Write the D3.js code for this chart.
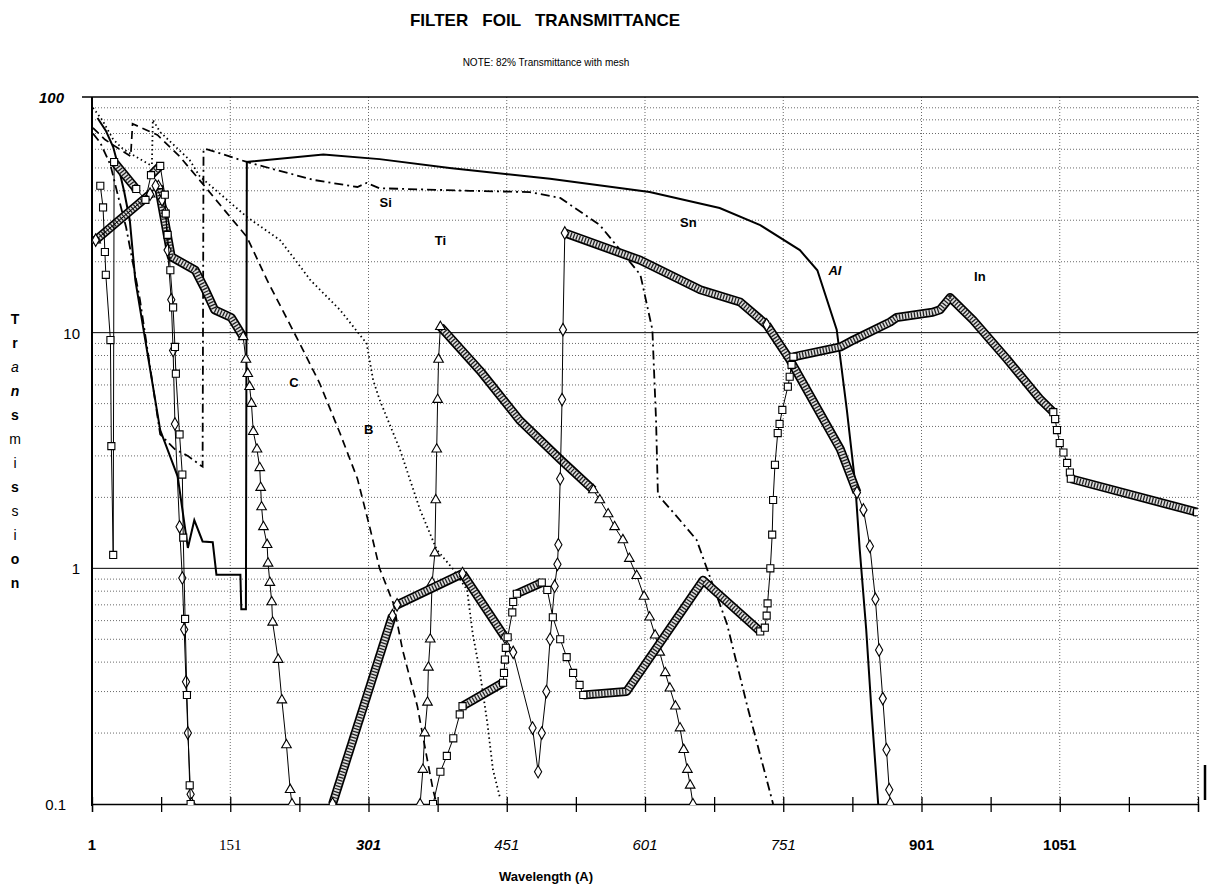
<!DOCTYPE html>
<html>
<head>
<meta charset="utf-8">
<script src="https://cdn.jsdelivr.net/npm/d3@7"></script>
<style>
  body { margin: 0; background: #fff; }
  text { font-family: Arial, "Liberation Sans", sans-serif; }
</style>
</head>
<body>
<script>
// wavelength (A) vs transmission (%)
var alData = [[7,81.5],[16,72],[24,61.3],[30,50],[36,39.5],[42,30],[48,16.7],[75,3.86],[94,2.45],[105,1.22],[112,1.6],[121,1.3],[132,1.29],[136,0.94],[162,0.94],[163,0.67],[168,0.67],[169,53],[252,57],[313,54.5],[389,50],[498,45],[606,39.5],[682,33.8],[726,28.6],[769,22.4],[788,18.4],[809,10.3],[820,4.7],[829,2.3],[834,1.2],[841,0.55],[847,0.24],[854,0.1]];
var siData = [[2,70],[10,64],[21,51.5],[29,38.4],[38,28],[53,13.8],[75,3.7],[91,3.2],[105,3.0],[118,2.75],[121,2.7],[122,60],[126,60],[169,53],[241,44.5],[289,41.5],[299,43.2],[313,41],[411,40],[476,39.5],[509,37.3],[552,28.6],[596,17.6],[609,10.3],[613,4.25],[615,2.05],[639,1.6],[657,1.32],[671,0.93],[690,0.58],[712,0.26],[740,0.1]];
var cData = [[2,74],[15,66],[31,60],[43,56],[45,77],[72,69],[96,56],[124,41.5],[147,32.3],[169,25.5],[191,16.7],[227,8.9],[248,6.1],[270,3.75],[289,2.4],[303,1.46],[313,1.0],[328,0.71],[338,0.45],[354,0.26],[364,0.16],[371,0.115],[375,0.1]];
var bData = [[2,90],[12,80],[24,66],[35,60],[64,51.5],[66,51.5],[67,80],[75,71],[107,54],[118,46],[169,31],[205,24.7],[223,20],[238,16.7],[270,12.5],[299,9.0],[306,6.3],[313,5.2],[335,3.2],[357,1.77],[375,1.2],[393,0.99],[408,0.81],[414,0.53],[422,0.36],[430,0.22],[436,0.14],[444,0.105]];
var tiData = [[5,24.7],[64,38.7],[73,42],[87,21],[113,18.4],[124,15.2],[134,12.5],[152,11.6],[165,9.6],[168,7.7],[170,6.7],[172,5.9],[174,5.0],[176,3.8],[180,3.2],[183,2.67],[184,2.2],[185,1.82],[187,1.5],[191,1.26],[192,1.05],[194,0.87],[196,0.72],[197,0.59],[203,0.41],[207,0.276],[212,0.178],[216,0.115],[218,0.1],null,
  [357,0.1],[360,0.14],[362,0.2],[365,0.27],[366,0.38],[368,0.5],[370,0.87],[373,1.16],[374,1.95],[375,3.2],[376,5.2],[377,7.7],[379,10.6],[422,6.9],[465,4.25],[509,2.9],[545,2.15],[552,1.95],[561,1.7],[568,1.5],[577,1.32],[584,1.1],[592,0.93],[600,0.76],[606,0.62],[612,0.52],[617,0.44],[623,0.36],[628,0.31],[634,0.26],[639,0.21],[643,0.17],[647,0.14],[650,0.12],[653,0.1]];
var snData = [[5,24.7],[64,38.7],[70,42],[77,36.6],[81,32.5],[83,22.4],[87,13.8],[89,8.4],[91,4.1],[96,1.5],[99,0.91],[101,0.55],[103,0.33],[105,0.2],[108,0.11],[109,0.1],null,
  [262,0.1],[327,0.63],[332,0.70],[403,0.95],[449,0.51],[458,0.44],[479,0.21],[485,0.137],[489,0.2],[494,0.3],[498,0.5],[503,0.84],[506,1.04],[507,1.26],[509,2.4],[511,5.2],[512,10.3],[514,26.5],[596,20.3],[661,15.2],[704,13.5],[733,10.8],[758,7.7],[813,3.2],[831,2.1],[838,1.77],[845,1.24],[851,0.74],[855,0.45],[859,0.28],[863,0.17],[866,0.115],[867,0.1]];
var inData = [[10,42],[13,34],[15,22],[16,17.6],[21,9.3],[22,3.3],[24,1.14],[25,53],[49,40.7],[59,36.6],[65,46.6],[75,51],[80,38.5],[81,32],[83,26],[86,18.4],[89,12.8],[91,8.7],[92,6.7],[96,3.7],[99,2.5],[100,1.35],[102,0.61],[104,0.29],[107,0.12],[108,0.1],null,
  [371,0.1],[379,0.137],[386,0.16],[393,0.19],[400,0.24],[403,0.26],[447,0.327],[448,0.36],[449,0.41],[450,0.46],[452,0.51],[457,0.65],[458,0.72],[462,0.78],[489,0.87],[495,0.81],[501,0.62],[509,0.5],[516,0.42],[523,0.36],[530,0.32],[534,0.29],[581,0.3],[664,0.89],[726,0.54],[731,0.56],[733,0.63],[734,0.71],[737,1.0],[739,1.39],[740,1.95],[742,2.75],[745,3.75],[747,4.1],[750,4.7],[756,5.9],[758,6.5],[760,7.3],[762,7.9],[813,8.7],[827,9.3],[867,11.1],[874,11.6],[913,12.2],[921,12.5],[932,14.1],[957,11.3],[994,7.7],[1030,5.2],[1044,4.6],[1046,4.3],[1048,3.86],[1051,3.4],[1055,3.1],[1059,2.8],[1062,2.55],[1063,2.4],[1200,1.73]];

// wavelength spans where the markers are so dense they merge into a band
var tiDense = [[5,64],[73,165],[379,545]];
var snDense = [[262,327],[332,403],[403,449],[514,733],[733,831]];
var inDense = [[25,49],[65,75],[403,447],[462,489],[534,726],[762,1044],[1063,1200]];

var xTickLabels = ["1","151","301","451","601","751","901","1051"];
var yTickLabels = ["0.1","1","10","100"];

var width = 1207, height = 888;
var margin = {top: 97, bottom: 84, left: 92, right: 9};

var svg = d3.select('body').append('svg')
  .attr('width', width).attr('height', height);

var xScale = d3.scaleLinear().domain([1, 1201]).range([margin.left, width - margin.right]);
var yScale = d3.scaleLog().domain([0.1, 100]).range([height - margin.bottom, margin.top]);

var x0 = margin.left, x1 = width - margin.right;
var y0 = height - margin.bottom, y1 = margin.top;

// title and note
svg.append('text').attr('x', 545).attr('y', 26).attr('text-anchor', 'middle')
  .style('font-size', '17px').style('font-weight', 'bold').style('white-space', 'pre')
  .text('FILTER   FOIL   TRANSMITTANCE');
svg.append('text').attr('x', 546).attr('y', 66).attr('text-anchor', 'middle')
  .style('font-size', '10px').text('NOTE:  82% Transmittance with mesh');

// minor grid (dotted)
var minor = [];
[0.1, 1, 10].forEach(function(d) { for (var k = 2; k <= 9; k++) minor.push(d * k); });
svg.append('g').selectAll('line').data(minor).enter().append('line')
  .attr('x1', x0).attr('x2', x1)
  .attr('y1', function(d) { return yScale(d); }).attr('y2', function(d) { return yScale(d); })
  .attr('stroke', '#444').attr('stroke-width', 0.8).attr('stroke-dasharray', '1,2');

var vgrid = d3.range(151, 1202, 150);
vgrid.push(1201);
svg.append('g').selectAll('line').data(vgrid).enter().append('line')
  .attr('x1', function(d) { return xScale(d); }).attr('x2', function(d) { return xScale(d); })
  .attr('y1', y1).attr('y2', y0)
  .attr('stroke', '#444').attr('stroke-width', 0.8).attr('stroke-dasharray', '1,2');

// major grid
svg.append('g').selectAll('line').data([1, 10]).enter().append('line')
  .attr('x1', x0).attr('x2', x1)
  .attr('y1', function(d) { return yScale(d); }).attr('y2', function(d) { return yScale(d); })
  .attr('stroke', '#000').attr('stroke-width', 1);

// axes
var xAxis = svg.append('g')
  .attr('transform', `translate(0,${y0})`)
  .call(d3.axisBottom(xScale).tickValues(d3.range(1, 1202, 75)).tickSize(8).tickFormat(''));
xAxis.select('.domain').attr('stroke-width', 1.3);
xAxis.selectAll('.tick line').attr('y1', -7).attr('y2', 8).attr('stroke-width', 1.3);

svg.append('line').attr('x1', 82).attr('x2', x1).attr('y1', y1).attr('y2', y1)
  .attr('stroke', '#000').attr('stroke-width', 1.5);
svg.append('line').attr('x1', x0).attr('x2', x0).attr('y1', y1).attr('y2', y0 + 2)
  .attr('stroke', '#000').attr('stroke-width', 2);
// short scan edge mark at bottom right
svg.append('line').attr('x1', 1205).attr('x2', 1205).attr('y1', 765).attr('y2', 800)
  .attr('stroke', '#000').attr('stroke-width', 2.5);

// x tick labels, mixed faces as in the scan
var xStyles = [
  {w: 'bold', s: 'normal', f: 'Arial'},
  {w: 'normal', s: 'normal', f: '"Liberation Serif", "Times New Roman", serif'},
  {w: 'bold', s: 'italic', f: 'Arial'},
  {w: 'normal', s: 'italic', f: 'Arial'},
  {w: 'normal', s: 'italic', f: 'Arial'},
  {w: 'normal', s: 'italic', f: 'Arial'},
  {w: 'bold', s: 'normal', f: 'Arial'},
  {w: 'bold', s: 'normal', f: 'Arial'}
];
svg.append('g').selectAll('text').data(xTickLabels).enter().append('text')
  .attr('x', function(d) { return xScale(+d); })
  .attr('y', 850)
  .attr('text-anchor', 'middle')
  .style('font-size', '15px')
  .style('font-weight', function(d, i) { return xStyles[i].w; })
  .style('font-style', function(d, i) { return xStyles[i].s; })
  .style('font-family', function(d, i) { return xStyles[i].f; })
  .text(function(d) { return d; });

svg.append('text').attr('x', 546).attr('y', 881).attr('text-anchor', 'middle')
  .style('font-size', '13px').style('font-weight', 'bold').text('Wavelength (A)');

// y tick labels
var yStyles = [{w: 'normal', s: 'normal'}, {w: 'normal', s: 'normal'}, {w: 'normal', s: 'normal'}, {w: 'bold', s: 'italic'}];
svg.append('g').selectAll('text').data(yTickLabels).enter().append('text')
  .attr('x', function(d) { return d === '100' ? 64 : (d === '0.1' ? 66 : 80); })
  .attr('y', function(d) { return yScale(+d) + 6; })
  .attr('text-anchor', 'end')
  .style('font-size', '15px')
  .style('font-weight', function(d, i) { return yStyles[i].w; })
  .style('font-style', function(d, i) { return yStyles[i].s; })
  .text(function(d) { return d; });

// vertical y title, letter by letter
var titleLetters = ['T','r','a','n','s','m','i','s','s','i','o','n'];
var titleStyle = ['b','b','i','bi','b','n','n','b','n','n','b','b'];
svg.append('g').selectAll('text').data(titleLetters).enter().append('text')
  .attr('x', 15).attr('y', function(d, i) { return 324 + i * 24; })
  .attr('text-anchor', 'middle')
  .style('font-size', '14px')
  .style('font-weight', function(d, i) { return titleStyle[i].indexOf('b') >= 0 ? 'bold' : 'normal'; })
  .style('font-style', function(d, i) { return titleStyle[i].indexOf('i') >= 0 ? 'italic' : 'normal'; })
  .text(function(d) { return d; });

// clip to plot area
svg.append('clipPath').attr('id', 'plot').append('rect')
  .attr('x', x0).attr('y', y1).attr('width', x1 - x0).attr('height', y0 - y1 + 1);
var plot = svg.append('g').attr('clip-path', 'url(#plot)');

var line = d3.line()
  .defined(function(d) { return d !== null; })
  .x(function(d) { return xScale(d[0]); })
  .y(function(d) { return yScale(d[1]); });

// plain line series
function drawLine(data, dash, w) {
  plot.append('path').datum(data)
    .attr('d', line).attr('fill', 'none').attr('stroke', '#000')
    .attr('stroke-width', w).attr('stroke-dasharray', dash);
}
drawLine(alData, null, 2);
drawLine(siData, '9,4,2,4', 1.8);
drawLine(cData, '8,5', 1.7);
drawLine(bData, '1.5,3', 1.8);

// marker series
function drawMarked(data, dense, symbolType, size) {
  plot.append('path').datum(data)
    .attr('d', line).attr('fill', 'none').attr('stroke', '#000').attr('stroke-width', 1);

  var pts = data.filter(function(d) { return d !== null; });
  dense.forEach(function(span) {
    var seg = pts.filter(function(d) { return d[0] >= span[0] && d[0] <= span[1]; });
    var g = plot.append('g');
    g.append('path').datum(seg).attr('d', line).attr('fill', 'none')
      .attr('stroke', '#000').attr('stroke-width', 9).attr('stroke-linejoin', 'round');
    g.append('path').datum(seg).attr('d', line).attr('fill', 'none')
      .attr('stroke', '#ddd').attr('stroke-width', 5.5).attr('stroke-linejoin', 'round');
    g.append('path').datum(seg).attr('d', line).attr('fill', 'none')
      .attr('stroke', '#222').attr('stroke-width', 5.5).attr('stroke-dasharray', '1.3,1.7');
  });

  var inside = function(d) {
    return dense.some(function(s) { return d[0] > s[0] && d[0] < s[1]; });
  };
  plot.selectAll(null).data(pts.filter(function(d) { return !inside(d); })).enter()
    .append('path')
    .attr('transform', function(d) { return `translate(${xScale(d[0])},${yScale(d[1])})`; })
    .attr('d', d3.symbol().type(symbolType).size(size))
    .attr('fill', '#fff').attr('stroke', '#000').attr('stroke-width', 1.1);
}
drawMarked(tiData, tiDense, d3.symbolTriangle, 40);
drawMarked(snData, snDense, d3.symbolDiamond, 45);
drawMarked(inData, inDense, d3.symbolSquare, 50);

// series labels
var labels = [
  {t: 'Si', w: 313, v: 34, st: 'normal'},
  {t: 'Sn', w: 639, v: 28, st: 'normal'},
  {t: 'Al', w: 800, v: 17.5, st: 'italic'},
  {t: 'In', w: 958, v: 16.5, st: 'normal'},
  {t: 'Ti', w: 373, v: 23.5, st: 'normal'},
  {t: 'C', w: 215, v: 5.9, st: 'normal'},
  {t: 'B', w: 296, v: 3.7, st: 'normal'}
];
svg.append('g').selectAll('text').data(labels).enter().append('text')
  .attr('x', function(d) { return xScale(d.w); })
  .attr('y', function(d) { return yScale(d.v); })
  .style('font-size', '13px').style('font-weight', 'bold')
  .style('font-style', function(d) { return d.st; })
  .text(function(d) { return d.t; });
</script>
</body>
</html>
